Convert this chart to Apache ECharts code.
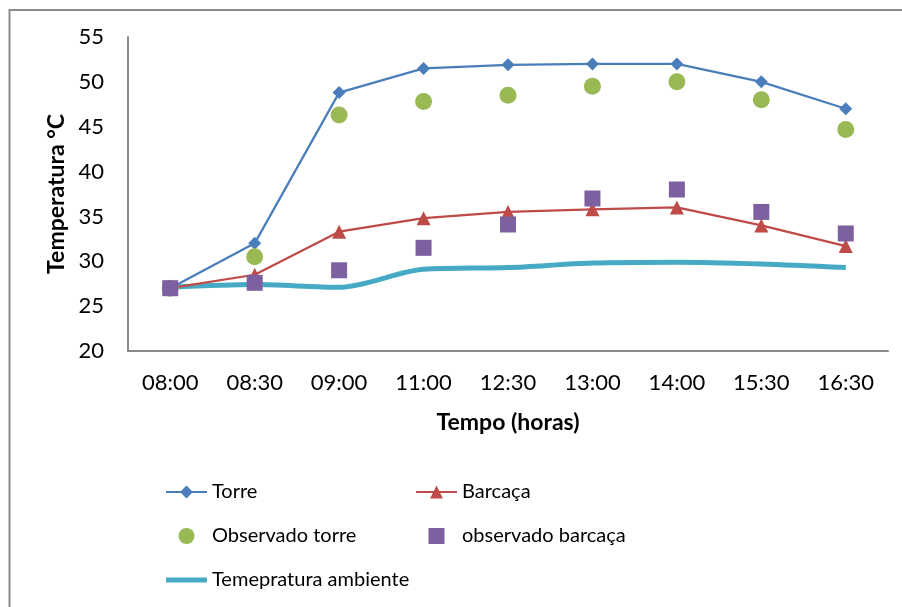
<!DOCTYPE html>
<html>
<head>
<meta charset="utf-8">
<script src="https://cdn.jsdelivr.net/npm/echarts@6/dist/echarts.min.js"></script>
<style>
  html, body { margin: 0; padding: 0; background: #fff; }
  #chart { width: 902px; height: 607px; }
</style>
</head>
<body>
<div id="chart"></div>
<script>
// Horas de medição
const horas = ['08:00', '08:30', '09:00', '11:00', '12:30', '13:00', '14:00', '15:30', '16:30'];

// Temperaturas simuladas (°C)
const torre = [27, 32, 48.8, 51.5, 51.9, 52, 52, 50, 47];
const barcaca = [27, 28.5, 33.3, 34.8, 35.5, 35.8, 36, 34, 31.7];

// Temperaturas observadas (°C)
const observadoTorre = [27, 30.5, 46.3, 47.8, 48.5, 49.5, 50, 48, 44.7];
const observadoBarcaca = [27, 27.6, 29, 31.5, 34.1, 37, 38, 35.5, 33.1];

// Temperatura do ar (°C)
const ambiente = [27.1, 27.4, 27.1, 29.1, 29.3, 29.8, 29.9, 29.7, 29.3];

// Escala do eixo Y
const yMin = 20, yMax = 55, yStep = 5;

const FONT = 'Lato';
const cores = {
  torre: '#4a7ebb',
  barcaca: '#be4b48',
  obsTorre: '#98b954',
  obsBarcaca: '#7d60a0',
  ambiente: '#46aac5'
};

// ícones da legenda: quadrado cheio e faixa grossa para a linha ambiente
const iconeQuadrado = 'path://M0,0L10,0L10,10L0,10Z';
const iconeFaixa = 'path://M0,0L42,0L42,5L0,5Z';

const legendBase = {
  orient: 'vertical',
  padding: 0,
  itemWidth: 41,
  itemHeight: 16,
  itemGap: 20,
  selectedMode: false,
  symbolKeepAspect: true,
  textStyle: { fontFamily: FONT, fontSize: 20, color: '#000', lineHeight: 24 }
};

const chart = echarts.init(document.getElementById('chart'), null, { renderer: 'canvas' });
chart.setOption({
  animation: false,
  backgroundColor: '#fff',
  graphic: [{
    type: 'rect',
    silent: true,
    shape: { x: 9.5, y: 10, width: 1000, height: 1000 },
    style: { fill: 'none', stroke: '#8c8c8c', lineWidth: 2 }
  }],
  grid: { left: 128, right: 14, top: 37, bottom: 256, containLabel: false },
  legend: [
    Object.assign({}, legendBase, {
      left: 165, top: 480,
      data: ['Torre', 'Observado torre', { name: 'Temepratura ambiente', icon: iconeFaixa }]
    }),
    Object.assign({}, legendBase, {
      left: 415, top: 480,
      data: ['Barcaça', { name: 'observado barcaça', icon: iconeQuadrado }]
    })
  ],
  xAxis: {
    type: 'category',
    data: horas,
    boundaryGap: true,
    name: 'Tempo (horas)',
    nameLocation: 'middle',
    nameGap: 60,
    nameTextStyle: { fontFamily: FONT, fontSize: 23, fontWeight: 'bold', color: '#000' },
    axisLine: { lineStyle: { color: '#8a8a8a', width: 2 } },
    axisTick: { show: false },
    axisLabel: { fontFamily: FONT, fontSize: 22, color: '#000', margin: 21 },
    splitLine: { show: false }
  },
  yAxis: {
    type: 'value',
    min: yMin,
    max: yMax,
    interval: yStep,
    name: 'Temperatura °C',
    nameLocation: 'middle',
    nameRotate: 90,
    nameGap: 56,
    nameTextStyle: { fontFamily: FONT, fontSize: 23, fontWeight: 'bold', color: '#000' },
    axisLine: { show: true, lineStyle: { color: '#8a8a8a', width: 2 } },
    axisTick: { show: false },
    axisLabel: { fontFamily: FONT, fontSize: 22, color: '#000', margin: 24 },
    splitLine: { show: false }
  },
  series: [
    {
      name: 'Temepratura ambiente',
      type: 'line',
      data: ambiente,
      smooth: 0.3,
      symbol: 'none',
      lineStyle: { color: cores.ambiente, width: 5 },
      itemStyle: { color: cores.ambiente },
      z: 2
    },
    {
      name: 'Torre',
      type: 'line',
      data: torre,
      symbol: 'diamond',
      symbolSize: 13,
      lineStyle: { color: cores.torre, width: 2.25 },
      itemStyle: { color: cores.torre },
      z: 3
    },
    {
      name: 'Barcaça',
      type: 'line',
      data: barcaca,
      symbol: 'triangle',
      symbolSize: 14,
      lineStyle: { color: cores.barcaca, width: 2.25 },
      itemStyle: { color: cores.barcaca },
      z: 3
    },
    {
      name: 'Observado torre',
      type: 'scatter',
      data: observadoTorre,
      symbol: 'circle',
      symbolSize: 17,
      itemStyle: { color: cores.obsTorre, opacity: 1 },
      z: 4
    },
    {
      name: 'observado barcaça',
      type: 'scatter',
      data: observadoBarcaca,
      symbol: 'rect',
      symbolSize: 16,
      itemStyle: { color: cores.obsBarcaca, opacity: 1 },
      z: 5
    }
  ]
});
</script>
</body>
</html>
